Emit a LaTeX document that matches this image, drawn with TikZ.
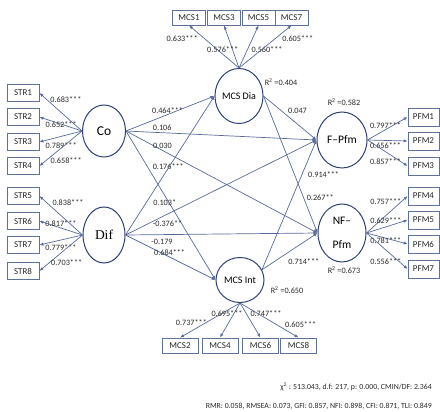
\documentclass[tikz,border=0pt]{standalone}
\usepackage{fontspec}
\setmainfont{Carlito}
\newfontfamily\difont{Liberation Serif}
\usetikzlibrary{arrows.meta,shapes.geometric}

\definecolor{ringblue}{RGB}{47,64,119}
\definecolor{pathblue}{RGB}{88,106,155}
\definecolor{itemblue}{RGB}{95,112,155}
\definecolor{coefgray}{RGB}{40,40,40}

\begin{document}
\begin{tikzpicture}[x=1pt, y=-1pt, arrows={-Latex[length=4pt,width=3.2pt]},
	latent/.style={ellipse, draw=ringblue, line width=1pt, inner sep=0pt, text=black, font=\fontsize{10}{12}\selectfont},
	item/.style={draw=itemblue, line width=0.8pt, minimum width=32pt, minimum height=17pt, inner sep=0pt, text=black!85, font=\fontsize{9}{10}\selectfont},
	coef/.style={font=\fontsize{8.2}{9}\selectfont, text=coefgray, inner sep=1pt},
	link/.style={draw=pathblue, line width=0.7pt}]
	\useasboundingbox (0,0) rectangle (440,412);

	% latent variables
	\node[latent, minimum width=43pt, minimum height=52pt, font=\fontsize{13.5}{15}\selectfont] (Co) at (104,131) {Co};
	\node[latent, minimum width=42pt, minimum height=56pt, font=\difont\fontsize{13.5}{15}\selectfont] (Dif) at (104,235) {Dif};
	\node[latent, minimum width=48pt, minimum height=55pt] (Dia) at (239,96) {MCS Dia};
	\node[latent, minimum width=48pt, minimum height=45pt] (Int) at (240,280) {MCS Int};
	\node[latent, minimum width=50pt, minimum height=56pt, font=\fontsize{11.5}{13}\selectfont] (FP) at (342,140) {F--Pfm};
	\node[latent, minimum width=48pt, minimum height=58pt, align=center, font=\fontsize{11.5}{14}\selectfont] (NFP) at (342,233) {NF--\\[10pt]Pfm};

	% indicators
	\node[item] (STR1) at (23,93) {STR1};
	\node[item] (STR2) at (23,117) {STR2};
	\node[item] (STR3) at (23,142) {STR3};
	\node[item] (STR4) at (23,166) {STR4};
	\node[item] (STR5) at (23,196) {STR5};
	\node[item] (STR6) at (23,221) {STR6};
	\node[item] (STR7) at (23,245) {STR7};
	\node[item] (STR8) at (23,271) {STR8};

	\node[item, minimum width=31pt, minimum height=18pt] (PFM1) at (423.5,117) {PFM1};
	\node[item, minimum width=31pt, minimum height=18pt] (PFM2) at (423.5,141) {PFM2};
	\node[item, minimum width=31pt, minimum height=18pt] (PFM3) at (423.5,166) {PFM3};
	\node[item, minimum width=31pt, minimum height=18pt] (PFM4) at (423.5,196) {PFM4};
	\node[item, minimum width=31pt, minimum height=18pt] (PFM5) at (423.5,220) {PFM5};
	\node[item, minimum width=31pt, minimum height=18pt] (PFM6) at (423.5,244) {PFM6};
	\node[item, minimum width=31pt, minimum height=18pt] (PFM7) at (423.5,269) {PFM7};

	\node[item, minimum width=33pt, minimum height=15pt] (MCS1) at (189,17.5) {MCS1};
	\node[item, minimum width=33pt, minimum height=15pt] (MCS3) at (224,17.5) {MCS3};
	\node[item, minimum width=33pt, minimum height=15pt] (MCS5) at (258.5,17.5) {MCS5};
	\node[item, minimum width=33pt, minimum height=15pt] (MCS7) at (291.5,17.5) {MCS7};
	\node[item, minimum width=36pt, minimum height=15pt] (MCS2) at (180,345.5) {MCS2};
	\node[item, minimum width=36pt, minimum height=15pt] (MCS4) at (220,345.5) {MCS4};
	\node[item, minimum width=36pt, minimum height=15pt] (MCS6) at (260.5,345.5) {MCS6};
	\node[item, minimum width=36pt, minimum height=15pt] (MCS8) at (298.5,345.5) {MCS8};

	% structural paths
	\draw[link] (Co.east) to node[coef, pos=0.47, above] {0.464***} (Dia.west);
	\draw[link] (Co.east) to node[coef, pos=0.19, above=1pt] {0.106} (FP.west);
	\draw[link] (Co.east) to node[coef, pos=0.19, above] {0.030} (NFP.west);
	\draw[link] (Co.east) to node[coef, pos=0.24, right=4pt] {0.176***} (Int.west);
	\draw[link] (Dif.east) to node[coef, pos=0.23, right=6pt] {0.103*} (Dia.west);
	\draw[link] (Dif.east) to node[coef, pos=0.22, below=5pt] {-0.376**} (FP.west);
	\draw[link] (Dif.east) to node[coef, pos=0.19, below=3pt] {-0.179} (NFP.west);
	\draw[link] (Dif.east) to node[coef, pos=0.49, above] {0.684***} (Int.west);
	\draw[link] (Dia.east) to node[coef, pos=0.44, above right] {0.047} (FP.west);
	\draw[link] (Dia.east) to node[coef, pos=0.74, right=2pt] {0.267**} (NFP.west);
	\draw[link] (Int.25) to node[coef, pos=0.73, right=5pt] {0.914***} (FP.west);
	\draw[link] (Int.25) to node[coef, pos=0.45, anchor=north west, yshift=-4pt] {0.714***} (NFP.west);

	% loadings
	\draw[link] (Co.west) to node[coef, pos=0.82, right=2pt] {0.683***} (STR1.east);
	\draw[link] (Co.west) to node[coef, pos=0.49] {0.652***} (STR2.east);
	\draw[link] (Co.west) to node[coef, pos=0.49, below=5pt] {0.789***} (STR3.east);
	\draw[link] (Co.west) to node[coef, pos=0.86, right=4pt] {0.658***} (STR4.east);
	\draw[link] (Dif.west) to node[coef, pos=0.82, right=4pt] {0.838***} (STR5.east);
	\draw[link] (Dif.west) to node[coef, pos=0.5, above] {0.817***} (STR6.east);
	\draw[link] (Dif.west) to node[coef, pos=0.5, below=3pt] {0.779***} (STR7.east);
	\draw[link] (Dif.west) to node[coef, pos=0.78, right=1pt] {0.703***} (STR8.east);

	\draw[link] (FP.east) to node[coef, pos=0.45, above] {0.797***} (PFM1.west);
	\draw[link] (FP.east) to node[coef, pos=0.45, below=1pt] {0.656***} (PFM2.west);
	\draw[link] (FP.east) to node[coef, pos=0.45, below=6pt] {0.857***} (PFM3.west);
	\draw[link] (NFP.east) to node[coef, pos=0.47, above=10pt] {0.757***} (PFM4.west);
	\draw[link] (NFP.east) to node[coef, pos=0.47, above=2pt] {0.629***} (PFM5.west);
	\draw[link] (NFP.east) to node[coef, pos=0.47, yshift=-2pt] {0.781***} (PFM6.west);
	\draw[link] (NFP.east) to node[coef, pos=0.47, below=7pt] {0.556***} (PFM7.west);

	\draw[link] (Dia.north) to node[coef, pos=0.8, below left] {0.633***} (MCS1.south);
	\draw[link] (Dia.north) to node[coef, pos=0.42, xshift=-10pt] {0.576***} (MCS3.south);
	\draw[link] (Dia.north) to node[coef, pos=0.42, right=3pt] {0.560***} (MCS5.south);
	\draw[link] (Dia.north) to node[coef, pos=0.8, below right] {0.605***} (MCS7.south);
	\draw[link] (Int.south) to node[coef, pos=0.58, left=-3pt] {0.737***} (MCS2.north);
	\draw[link] (Int.south) to node[coef, pos=0.3, xshift=-7pt] {0.695***} (MCS4.north);
	\draw[link] (Int.south) to node[coef, pos=0.3, right=3pt] {0.747***} (MCS6.north);
	\draw[link] (Int.south) to node[coef, pos=0.75, above right] {0.605***} (MCS8.north);

	% explained variance and fit
	\node[coef] (r2dia) at (281,82) {R\textsuperscript{2} =0.404};
	\node[coef] (r2fp) at (344,102) {R\textsuperscript{2} =0.582};
	\node[coef] (r2nfp) at (344,270) {R\textsuperscript{2} =0.673};
	\node[coef] (r2int) at (287,290) {R\textsuperscript{2} =0.650};
	\node[coef, anchor=east, font=\fontsize{7.8}{9}\selectfont] (fit1) at (433,387) {χ\textsuperscript{2} : 513.043, d.f: 217, p: 0.000, CMIN/DF: 2.364};
	\node[coef, anchor=east, font=\fontsize{7.8}{9}\selectfont] (fit2) at (433,406) {RMR: 0.058, RMSEA: 0.073, GFI: 0.857, NFI: 0.898, CFI: 0.871, TLI: 0.849};
\end{tikzpicture}
\end{document}
